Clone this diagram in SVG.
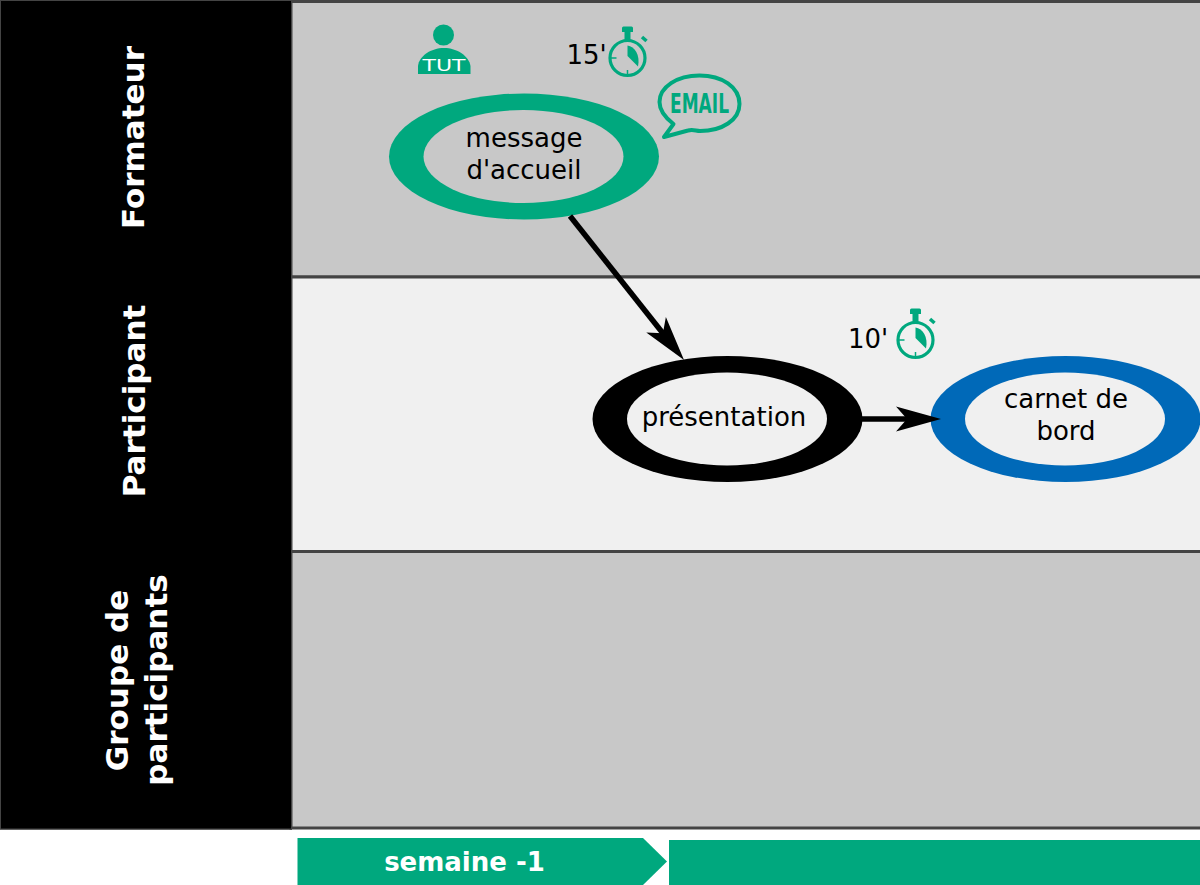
<svg xmlns="http://www.w3.org/2000/svg" width="1200" height="885" viewBox="0 0 1200 885">
<defs>
<marker id="arrow" markerUnits="userSpaceOnUse" markerWidth="46" markerHeight="30" refX="25" refY="15" orient="auto" overflow="visible"><path d="M0 2.500 L45 15 L0 27.500 L11 15 Z" fill="#000"/></marker>
<g id="watch">
<circle cx="0" cy="0" r="17.500" fill="none" stroke="#00a87e" stroke-width="3.200"/>
<path d="M-5.500 -30 Q-5.500 -31.500 -4 -31.500 H4 Q5.500 -31.500 5.500 -30 V-26 H3 V-18 H-3 V-26 H-5.500 Z" fill="#00a87e"/>
<path d="M14.500 -21 L19 -17" stroke="#00a87e" stroke-width="3.500" fill="none"/>
<path d="M0 -12.500 C7 -11.500 13 -3 10.500 8.500 L0 -2 Z" fill="#00a87e"/>
<path d="M-17 0 H-11 M0 17 V12" stroke="#00a87e" stroke-width="1.500" fill="none"/>
</g>
</defs>
<style>
.lane{stroke:#444;stroke-width:3}
.head{fill:#000}
.lab{font-family:"DejaVu Sans",sans-serif;font-size:26px;fill:#000;text-anchor:middle}
.side{font-family:"DejaVu Sans",sans-serif;font-size:31px;font-weight:bold;fill:#fff;text-anchor:middle}
.t{font-family:"DejaVu Sans",sans-serif;font-size:26px;fill:#000}
.g{fill:#00a87e}
.conn{stroke:#000;stroke-width:5.500;fill:none;marker-end:url(#arrow)}
</style>

<g id="lanes">
<rect class="lane" x="291" y="1.500" width="912" height="275.500" fill="#c8c8c8"/>
<rect class="lane" x="291" y="277" width="912" height="274.500" fill="#f0f0f0"/>
<rect class="lane" x="291" y="551.500" width="912" height="276.500" fill="#c8c8c8"/>
</g>

<g id="lane-formateur">
<rect class="head" x="0" y="0" width="292" height="277"/>
<text class="side" transform="translate(144 137.500) rotate(-90)">Formateur</text>
</g>
<g id="lane-participant">
<rect class="head" x="0" y="277" width="292" height="275"/>
<text class="side" transform="translate(145 401) rotate(-90)">Participant</text>
</g>
<g id="lane-groupe">
<rect class="head" x="0" y="552" width="292" height="277.500"/>
<text class="side" transform="translate(128 680.500) rotate(-90)">Groupe de</text>
<text class="side" transform="translate(167 680) rotate(-90)">participants</text>
</g>
<rect id="lane-edge" x="0.500" y="0.500" width="291" height="828.500" fill="none" stroke="#444" stroke-width="1"/>

<g id="node-message">
<ellipse cx="524" cy="156.500" rx="135" ry="63" fill="#00a87e"/>
<ellipse cx="523.500" cy="156.500" rx="100" ry="46.500" fill="#c8c8c8"/>
<text class="lab" x="524" y="147">message</text>
<text class="lab" x="524" y="179">d'accueil</text>
</g>
<g id="node-presentation">
<ellipse cx="727.500" cy="419" rx="135" ry="63" fill="#000"/>
<ellipse cx="727" cy="419" rx="100" ry="46.500" fill="#f0f0f0"/>
<text class="lab" x="724" y="426">présentation</text>
</g>
<g id="node-carnet">
<ellipse cx="1065.500" cy="419" rx="135" ry="63" fill="#0069b8"/>
<ellipse cx="1065" cy="419" rx="100" ry="46.500" fill="#f0f0f0"/>
<text class="lab" x="1066" y="408">carnet de</text>
<text class="lab" x="1066" y="440">bord</text>
</g>

<g id="connectors">
<line class="conn" x1="570" y1="216" x2="671.600" y2="344.300"/>
<line class="conn" x1="862" y1="419" x2="921" y2="419"/>
</g>

<g id="icon-tut">
<circle class="g" cx="443.500" cy="35" r="10.500"/>
<path class="g" d="M418 74 V66 C419 56 431 48 444 48 C457 48 469 56 470.500 66 V74 Z"/>
<text x="444" y="71" text-anchor="middle" font-family="DejaVu Sans, sans-serif" font-size="15.500" fill="#fff" textLength="43" lengthAdjust="spacingAndGlyphs">TUT</text>
</g>
<g id="timer-15">
<text class="t" x="566.500" y="64">15'</text>
<use href="#watch" x="627.500" y="58"/>
</g>
<g id="icon-email">
<path d="M664 137 L673.500 124 C663 116 659.500 109 659.500 102 C659.500 87 677 75.500 699.500 75.500 C722 75.500 739.500 87 739.500 104 C739.500 120 722 131 700 131 C696 131 693 129 688 130.500 Z" fill="none" stroke="#00a87e" stroke-width="4" stroke-linejoin="round"/>
<text x="699.500" y="113" text-anchor="middle" font-family="DejaVu Sans, sans-serif" font-size="27" font-weight="bold" fill="#00a87e" textLength="59" lengthAdjust="spacingAndGlyphs">EMAIL</text>
</g>
<g id="timer-10">
<text class="t" x="848" y="348">10'</text>
<use href="#watch" x="915.500" y="340"/>
</g>

<g id="timeline">
<path class="g" d="M297.500 838 H643 L667 861.500 L643 885 H297.500 Z"/>
<text x="464.500" y="871" text-anchor="middle" font-family="DejaVu Sans, sans-serif" font-size="26" font-weight="bold" fill="#fff">semaine -1</text>
<rect class="g" x="669" y="840" width="531" height="45"/>
</g>
</svg>
